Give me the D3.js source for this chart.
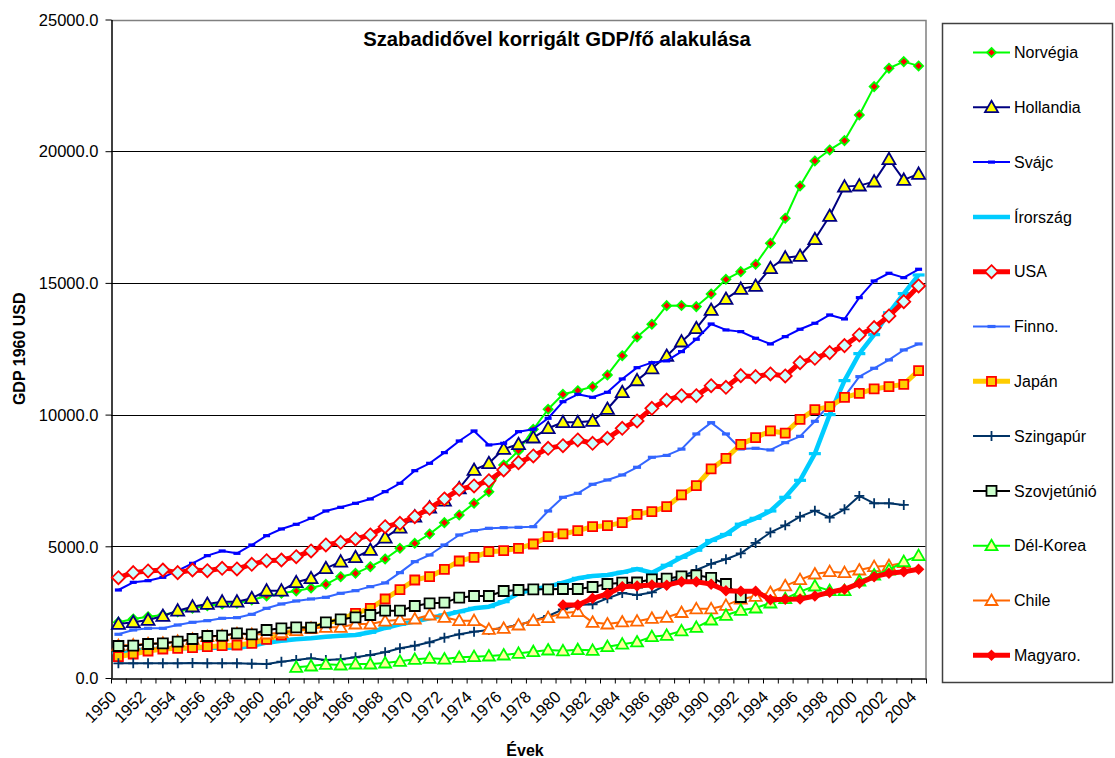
<!DOCTYPE html>
<meta charset="utf-8">
<script src="https://d3js.org/d3.v7.min.js"></script>
<style>
body { margin: 0; background: #fff; }
text { font-family: "Liberation Sans", Arial, sans-serif; }
</style>
<div id="chart"></div>
<script>

// years on the category axis
var years = d3.range(1950, 2005);
var yTicks = [0, 5000, 10000, 15000, 20000, 25000];

// series values, 1950..2004 (null = no data)
var norvegia = [2114,2240,2329,2392,2518,2645,2746,2810,2835,2962,3113,3215,3303,3417,3557,3847,3974,4226,4518,4923,5113,5468,5898,6189,6633,7075,8088,8631,9442,10202,10770,10909,11061,11505,12238,12948,13430,14137,14140,14100,14580,15138,15428,15708,16505,17455,18681,19630,20048,20402,21377,22452,23150,23401,23238];
var hollandia = [2050,2114,2202,2354,2556,2709,2810,2898,2898,3025,3316,3316,3632,3784,4164,4417,4582,4860,5328,5708,6125,6467,6733,7200,7898,8151,8695,8873,9125,9480,9708,9708,9758,10214,10848,11300,11750,12226,12770,13278,13973,14391,14771,14884,15556,15959,16023,16656,17542,18655,18693,18845,19695,18909,19137];
var svajc = [3341,3632,3695,3822,4075,4354,4645,4822,4733,5050,5404,5658,5835,6062,6341,6480,6632,6797,7075,7391,7872,8151,8556,8999,9379,8847,8910,9353,9442,9860,10491,10770,10657,10847,11353,11782,11972,12040,12391,12861,13441,13214,13150,12898,12682,12960,13240,13468,13783,13631,14440,15074,15366,15200,15518];
var irorszag = [962,1038,1088,1114,1126,1126,1152,1152,1152,1215,1342,1418,1469,1507,1570,1608,1633,1734,1900,2038,2139,2266,2392,2518,2645,2709,2898,3215,3367,3468,3620,3784,3873,3911,4012,4139,4000,4280,4580,4850,5220,5450,5840,6062,6341,6860,7505,8518,10000,11290,12315,13036,13866,14593,15302];
var usa = [3808,4000,4063,4100,4000,4100,4075,4164,4139,4316,4455,4480,4606,4822,5050,5151,5278,5430,5745,5873,6125,6443,6797,7164,7290,7492,7898,8176,8429,8720,8821,9037,8910,9100,9480,9758,10240,10550,10719,10719,11099,11036,11479,11441,11543,11467,11973,12138,12353,12619,13024,13302,13745,14288,14884];
var finno = [1659,1823,1886,1886,2012,2114,2177,2266,2291,2417,2645,2810,2924,3000,3063,3215,3316,3468,3610,4000,4417,4670,5050,5430,5594,5683,5708,5720,5745,6341,6860,7012,7354,7518,7708,8000,8379,8450,8690,9265,9694,9265,8695,8721,8657,8935,9175,9745,10404,10681,11441,11759,12075,12454,12682];
var japan = [810,911,1025,1101,1126,1152,1190,1228,1253,1317,1469,1633,1848,1886,2076,2228,2456,2645,3000,3355,3721,3847,4126,4442,4582,4796,4835,4923,5088,5366,5468,5594,5745,5784,5898,6214,6316,6505,6949,7303,7936,8341,8873,9125,9379,9300,9822,10190,10302,10657,10809,10973,11061,11151,11669];
var szingapur = [557,557,557,557,557,570,557,557,557,545,532,620,683,747,683,709,785,873,980,1126,1228,1355,1532,1659,1760,1823,1911,2012,2177,2354,2607,2772,2800,3025,3228,3152,3250,3550,3850,4100,4335,4510,4733,5130,5525,5797,6125,6353,6088,6405,6911,6632,6632,6569,null];
var szovjetunio = [1215,1228,1291,1317,1380,1481,1595,1608,1696,1659,1823,1886,1924,1911,2114,2228,2304,2392,2556,2556,2734,2835,2860,3050,3113,3113,3303,3341,3367,3367,3379,3379,3455,3569,3620,3626,3746,3770,3860,3898,3803,3569,3075,null,null,null,null,null,null,null,null,null,null,null,null];
var delkorea = [null,null,null,null,null,null,null,null,null,null,null,null,406,456,520,494,532,532,570,632,709,747,720,785,810,835,873,936,999,1063,1030,1075,1050,1190,1285,1368,1570,1620,1790,1924,2202,2380,2570,2658,2848,3010,3278,3493,3316,3316,3683,3911,4101,4417,4645];
var chile = [1230,1250,1300,1320,1390,1470,1570,1600,1680,1650,1671,1722,1797,1886,1924,1924,2050,2050,2160,2215,2240,2392,2304,2177,2177,1848,1886,2012,2177,2291,2468,2518,2114,2050,2127,2158,2266,2304,2487,2626,2626,2759,2993,3100,3246,3500,3733,3949,4037,4000,4100,4227,4265,4379,null];
var magyaro = [null,null,null,null,null,null,null,null,null,null,null,null,null,null,null,null,null,null,null,null,null,null,null,null,null,null,null,null,null,null,2772,2772,3025,3189,3468,3493,3531,3525,3657,3657,3563,3310,3297,3297,2975,2987,3000,3113,3253,3367,3594,3847,3974,4037,4126];

// one entry per series, in legend order; z = drawing order
var series = [
  {name: "Norvégia",    values: norvegia,    color: "#00FF00", width: 2,   marker: "diamond",  fill: "#FF0000", stroke: "#00FF00", size: 4.5, z: 0},
  {name: "Hollandia",   values: hollandia,   color: "#000080", width: 2,   marker: "triangle", fill: "#FFFF00", stroke: "#000080", size: 6.5, z: 1},
  {name: "Svájc",       values: svajc,       color: "#0000FF", width: 2,   marker: "dash",     fill: "#0000FF", stroke: "none",    size: 3.5, z: 2},
  {name: "Írország",    values: irorszag,    color: "#00CCFF", width: 4.5, marker: "dash",     fill: "#00CCFF", stroke: "none",    size: 6,   z: 3},
  {name: "USA",         values: usa,         color: "#FF0000", width: 5,   marker: "diamond",  fill: "#CCFFFF", stroke: "#FF0000", size: 6.5, z: 4},
  {name: "Finno.",      values: finno,       color: "#3366FF", width: 2,   marker: "dash",     fill: "#3366FF", stroke: "none",    size: 4,   z: 5},
  {name: "Japán",       values: japan,       color: "#FFCC00", width: 5,   marker: "square",   fill: "#FFCC00", stroke: "#FF0000", size: 4.5, z: 6},
  {name: "Szingapúr",   values: szingapur,   color: "#003366", width: 2,   marker: "plus",     fill: "none",    stroke: "#003366", size: 5,   z: 7},
  {name: "Szovjetúnió", values: szovjetunio, color: "#000000", width: 2,   marker: "square",   fill: "#CCFFCC", stroke: "#000000", size: 5,   z: 9},
  {name: "Dél-Korea",   values: delkorea,    color: "#00FF00", width: 2,   marker: "triangle", fill: "#FFFF99", stroke: "#00FF00", size: 6,   z: 10},
  {name: "Chile",       values: chile,       color: "#FF6600", width: 2,   marker: "triangle", fill: "#FFFFFF", stroke: "#FF6600", size: 6,   z: 8},
  {name: "Magyaro.",    values: magyaro,     color: "#FF0000", width: 5,   marker: "diamond",  fill: "#FF0000", stroke: "#FF0000", size: 4.5, z: 11}
];

var W = 1115, H = 758;
var plot = {left: 111, top: 19.5, right: 926, bottom: 678};

var svg = d3.select("#chart").append("svg")
  .attr("width", W)
  .attr("height", H);

var x = d3.scaleBand()
  .domain(years)
  .range([plot.left, plot.right])
  .padding(0);

var xEdge = d3.scaleLinear()
  .domain([0, years.length])
  .range([plot.left, plot.right]);

var y = d3.scaleLinear()
  .domain([0, 25000])
  .range([plot.bottom, plot.top]);

function cx(i) { return x(years[i]) + x.bandwidth() / 2; }

// gridlines
svg.append("g")
  .selectAll("line")
  .data(yTicks.filter(function(d) { return d > 0 && d < 25000; }))
  .enter().append("line")
    .attr("x1", plot.left).attr("x2", plot.right)
    .attr("y1", function(d) { return Math.round(y(d)) + 0.5; })
    .attr("y2", function(d) { return Math.round(y(d)) + 0.5; })
    .attr("stroke", "#000")
    .attr("stroke-width", 1);

// plot area border (top / right)
svg.append("path")
  .attr("d", "M" + plot.left + "," + (Math.round(plot.top) + 0.5) + "H" + plot.right + "V" + plot.bottom)
  .attr("fill", "none")
  .attr("stroke", "#808080")
  .attr("stroke-width", 1.5);

// y axis
var yAxis = svg.append("g")
  .attr("transform", "translate(" + (plot.left + 0.5) + ",0)")
  .call(d3.axisLeft(y).tickValues(yTicks).tickFormat(d3.format(".1f")).tickSize(6).tickSizeOuter(0));
yAxis.select(".domain").attr("stroke", "#000").attr("stroke-width", 1.5);
yAxis.selectAll(".tick line").attr("stroke", "#000");
yAxis.selectAll("text")
  .attr("x", -13)
  .attr("dy", "0.35em")
  .style("font-size", "16.5px")
  .attr("fill", "#000");

// x axis: tick marks on category edges
var xTicksG = svg.append("g")
  .attr("transform", "translate(0," + (plot.bottom + 0.5) + ")")
  .call(d3.axisBottom(xEdge).tickValues(d3.range(years.length + 1)).tickFormat("").tickSize(5).tickSizeOuter(0));
xTicksG.select(".domain").attr("stroke", "#000").attr("stroke-width", 1.5);

// x labels every 2 years
var xLab = svg.append("g")
  .attr("transform", "translate(0," + plot.bottom + ")")
  .call(d3.axisBottom(x).tickValues(years.filter(function(d) { return d % 2 === 0; })).tickSize(0));
xLab.select(".domain").remove();
xLab.selectAll("text")
  .attr("text-anchor", "end")
  .attr("y", 0).attr("dy", 0)
  .attr("transform", "translate(-1,20) rotate(-45)")
  .style("font-size", "16.5px")
  .attr("fill", "#000");

// marker shapes
function markerPath(type, s) {
  if (type === "diamond") return "M0," + (-s) + "L" + s + ",0L0," + s + "L" + (-s) + ",0Z";
  if (type === "square") return "M" + (-s) + "," + (-s) + "H" + s + "V" + s + "H" + (-s) + "Z";
  if (type === "triangle") return "M0," + (-s) + "L" + s + "," + (s * 0.75) + "H" + (-s) + "Z";
  if (type === "dash") return "M" + (-s) + ",-1.6H" + s + "V1.6H" + (-s) + "Z";
  if (type === "plus") return "M" + (-s) + ",0H" + s + "M0," + (-s) + "V" + s;
  return "";
}

var line = d3.line()
  .defined(function(d) { return d != null; })
  .x(function(d, i) { return cx(i); })
  .y(function(d) { return y(d); });

var drawOrder = series.slice().sort(function(a, b) { return a.z - b.z; });

var sg = svg.append("g").selectAll("g")
  .data(drawOrder)
  .enter().append("g");

sg.append("path")
  .attr("d", function(s) { return line(s.values); })
  .attr("fill", "none")
  .attr("stroke", function(s) { return s.color; })
  .attr("stroke-width", function(s) { return s.width; })
  .attr("stroke-linejoin", "round");

sg.each(function(s) {
  var pts = s.values.map(function(v, i) { return {v: v, i: i}; })
    .filter(function(d) { return d.v != null; });
  d3.select(this).selectAll("path.m")
    .data(pts)
    .enter().append("path")
      .attr("class", "m")
      .attr("transform", function(d) { return "translate(" + cx(d.i) + "," + y(d.v) + ")"; })
      .attr("d", markerPath(s.marker, s.size))
      .attr("fill", s.fill)
      .attr("stroke", s.stroke)
      .attr("stroke-width", 1.8);
});

// title
svg.append("text")
  .attr("x", 557).attr("y", 46)
  .attr("text-anchor", "middle")
  .style("font-size", "20.3px")
  .style("font-weight", "bold")
  .text("Szabadidővel korrigált GDP/fő alakulása");

// axis titles
svg.append("text")
  .attr("transform", "translate(25," + ((plot.top + plot.bottom) / 2) + ") rotate(-90)")
  .attr("text-anchor", "middle")
  .style("font-size", "16px")
  .style("font-weight", "bold")
  .text("GDP 1960 USD");

svg.append("text")
  .attr("x", 525).attr("y", 756)
  .attr("text-anchor", "middle")
  .style("font-size", "16px")
  .style("font-weight", "bold")
  .text("Évek");

// legend
var legend = svg.append("g");
legend.append("rect")
  .attr("x", 942.5).attr("y", 23.5)
  .attr("width", 170).attr("height", 659)
  .attr("fill", "#fff")
  .attr("stroke", "#404040")
  .attr("stroke-width", 1.5);

var li = legend.selectAll("g.item")
  .data(series)
  .enter().append("g")
    .attr("class", "item")
    .attr("transform", function(d, i) { return "translate(0," + (52.5 + i * 54.8) + ")"; });

li.append("line")
  .attr("x1", 973).attr("x2", 1010)
  .attr("stroke", function(d) { return d.color; })
  .attr("stroke-width", function(d) { return d.width; });

li.append("path")
  .attr("transform", "translate(991.5,0)")
  .attr("d", function(d) { return markerPath(d.marker, d.size); })
  .attr("fill", function(d) { return d.fill; })
  .attr("stroke", function(d) { return d.stroke; })
  .attr("stroke-width", 1.8);

li.append("text")
  .attr("x", 1014)
  .attr("dy", "0.36em")
  .style("font-size", "16px")
  .text(function(d) { return d.name; });

</script>
